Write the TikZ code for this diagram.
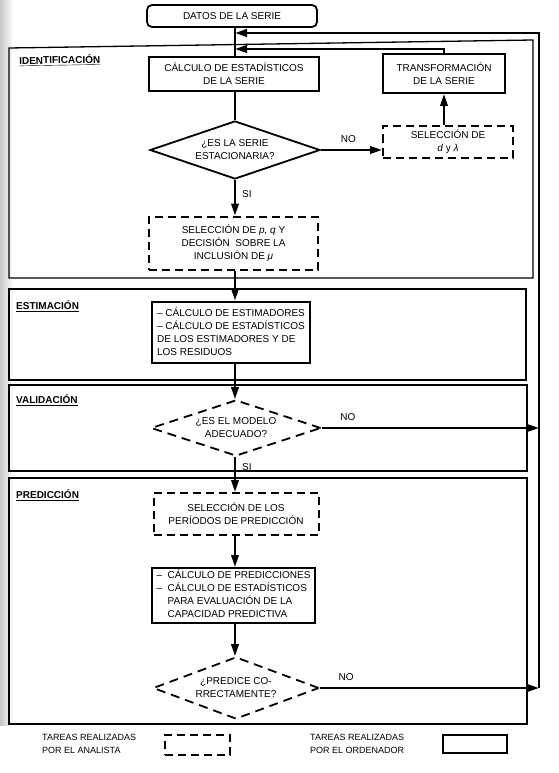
\documentclass[tikz,border=0pt]{standalone}
\usepackage{fontspec}
\setmainfont{Liberation Sans}
\usetikzlibrary{arrows.meta,shapes.geometric}

\begin{document}
\begin{tikzpicture}[x=1pt,y=-1pt,
  every node/.style={font=\fontsize{10}{13}\selectfont, align=center, inner sep=0pt},
  solidbox/.style={draw, line width=2pt, rectangle},
  startbox/.style={draw, line width=1.8pt, rectangle, rounded corners=5pt},
  dashbox/.style={draw, line width=2pt, dash pattern=on 8pt off 5pt, rectangle},
  decide/.style={diamond, draw, line width=1.8pt, aspect=3, inner sep=0pt},
  dashdecide/.style={decide, dash pattern=on 9pt off 6pt},
  frame/.style={draw, line width=1.3pt},
  conn/.style={line width=2.2pt},
  arr/.style={conn, -{Triangle[length=12pt,width=7.5pt]}},
  loopline/.style={line width=2.6pt, line join=miter, -{Triangle[length=12pt,width=7.5pt]}},
  phase/.style={font=\fontsize{10}{12}\selectfont\bfseries, anchor=west},
  answer/.style={font=\fontsize{10}{12}\selectfont},
  legend/.style={font=\fontsize{9}{13}\selectfont, align=left, anchor=west},
]
\useasboundingbox (0,0) rectangle (558,773);
\fill[white] (0,0) rectangle (558,773);
% shadow of the page edge on the left
\fill[left color=gray!45, right color=white] (0,0) rectangle (13,725);

% phase frames
\draw[frame] (9,48) -- (533,40) -- (533,278) -- (9,278) -- cycle;
\draw[frame] (9,289) rectangle (526,380);
\draw[frame] (9,385) rectangle (527,471);
\draw[frame] (9,478) rectangle (527,724);

\node[phase, rotate=1] (lident) at (19,61) {\underline{IDENTIFICACIÓN}};
\node[phase] (lestim) at (16,306) {\underline{ESTIMACIÓN}};
\node[phase] (lvalid) at (16,400) {\underline{VALIDACIÓN}};
\node[phase] (lpred) at (16,495) {\underline{PREDICCIÓN}};

% main column
\coordinate (axis) at (235,0);
\coordinate (rtop) at (539,33);
\coordinate (fbk) at (235,49);

\node[startbox, minimum width=170pt, minimum height=22pt] (datos) at (232,16) {DATOS DE LA SERIE};
\node[solidbox, minimum width=170pt, minimum height=34pt] (calc) at (234,74)
  {CÁLCULO DE ESTADÍSTICOS\\DE LA SERIE};
\node[solidbox, minimum width=122pt, minimum height=39pt] (transf) at (444,73.5)
  {TRANSFORMACIÓN\\DE LA SERIE};
\node[decide, minimum width=170pt, minimum height=58pt] (d1) at (235,150)
  {¿ES LA SERIE\\ESTACIONARIA?};
\node[dashbox, minimum width=130pt, minimum height=31pt] (seld) at (448,142)
  {SELECCIÓN DE\\\textit{d} y \textit{λ}};
\node[dashbox, minimum width=169pt, minimum height=53pt] (pq) at (233.5,243)
  {SELECCIÓN DE \textit{p, q} Y\\DECISIÓN\ \ SOBRE LA\\INCLUSIÓN DE \textit{μ}};
\node[solidbox, minimum width=158pt, minimum height=61pt, align=left] (est) at (231,332)
  {– CÁLCULO DE ESTIMADORES\\– CÁLCULO DE ESTADÍSTICOS\\DE LOS ESTIMADORES Y DE\\LOS RESIDUOS};
\node[dashdecide, minimum width=170pt, minimum height=56pt] (d2) at (236,428)
  {¿ES EL MODELO\\ADECUADO?};
\node[dashbox, minimum width=165pt, minimum height=42pt] (per) at (236,514)
  {SELECCIÓN DE LOS\\PERÍODOS DE PREDICCIÓN};
\node[solidbox, minimum width=163pt, minimum height=55pt] (pred) at (233.5,595.5)
  {\begin{tabular}{@{}l@{\ \ }l@{}}
   – & CÁLCULO DE PREDICCIONES\\
   – & CÁLCULO DE ESTADÍSTICOS\\
     & PARA EVALUACIÓN DE LA\\
     & CAPACIDAD PREDICTIVA
   \end{tabular}};
\node[dashdecide, minimum width=166pt, minimum height=62pt] (d3) at (236,688)
  {¿PREDICE CO-\\RRECTAMENTE?};

% connectors
\draw[conn] (datos.south -| axis) -- (calc.north -| axis);
\draw[conn] (calc.south -| axis) -- (d1.north -| axis);
\draw[arr] (d1.south -| axis) -- node[answer, right=6pt, pos=0.4] (si1) {SI} (pq.north -| axis);
\draw[arr] (d1.east) -- node[answer, above=6pt, pos=0.45] (no1) {NO} (d1.east -| seld.west);
\draw[arr] (seld.north -| transf.north) -- (transf.south);
\draw[arr] (transf.north) |- (fbk);
\draw[arr] (pq.south -| axis) -- (est.north -| axis);
\draw[arr] (est.south -| axis) -- (d2.north -| axis);
\draw[arr] (d2.south -| axis) -- node[answer, right=6pt, pos=0.3] (si2) {SI} (per.north -| axis);
\draw[arr] (per.south -| axis) -- (pred.north -| axis);
\draw[arr] (pred.south -| axis) -- (d3.north -| axis);
\draw[arr] (d2.east) -- node[answer, above=6pt, pos=0.12] (no2) {NO} (d2.east -| rtop);
\draw[arr] (d3.east) -- node[answer, above=6pt, pos=0.12] (no3) {NO} (d3.east -| rtop);
\draw[loopline] (d3.east -| rtop) -- (rtop) -- (rtop -| axis);

% legend
\node[legend] (lan) at (42,744) {TAREAS REALIZADAS\\POR EL ANALISTA};
\node[dashbox, minimum width=65pt, minimum height=20pt] (kan) at (197.5,745) {};
\node[legend] (lor) at (310,744) {TAREAS REALIZADAS\\POR EL ORDENADOR};
\node[solidbox, minimum width=64pt, minimum height=18pt] (kor) at (475,744) {};
\end{tikzpicture}
\end{document}
